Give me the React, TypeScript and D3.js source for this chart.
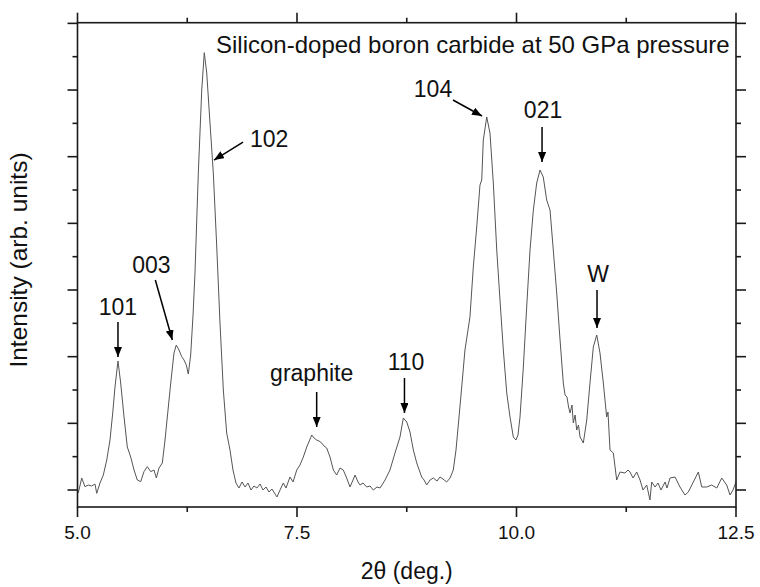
import React from "react";
import * as d3 from "d3";

// 2θ (deg.) values of the measured pattern
const twoTheta: number[] = [
  5.009, 5.048, 5.085, 5.123, 5.162, 5.199, 5.219, 5.256, 5.294, 5.333, 5.370, 5.401, 5.427, 5.461,
  5.492, 5.530, 5.567, 5.606, 5.644, 5.681, 5.720, 5.757, 5.795, 5.834, 5.871, 5.898, 5.928, 5.966,
  5.997, 6.023, 6.062, 6.099, 6.125, 6.156, 6.187, 6.213, 6.239, 6.262, 6.289, 6.316, 6.338, 6.376,
  6.415, 6.444, 6.472, 6.509, 6.547, 6.585, 6.623, 6.661, 6.699, 6.737, 6.771, 6.805, 6.839, 6.874,
  6.908, 6.942, 6.976, 7.010, 7.044, 7.079, 7.113, 7.147, 7.181, 7.215, 7.250, 7.272, 7.307, 7.344,
  7.375, 7.420, 7.455, 7.497, 7.534, 7.572, 7.611, 7.668, 7.694, 7.724, 7.751, 7.781, 7.808, 7.838,
  7.876, 7.914, 7.952, 7.990, 8.027, 8.066, 8.104, 8.138, 8.161, 8.195, 8.218, 8.252, 8.294, 8.332,
  8.369, 8.411, 8.446, 8.503, 8.559, 8.616, 8.673, 8.711, 8.750, 8.787, 8.825, 8.864, 8.920, 8.947,
  8.977, 9.015, 9.053, 9.095, 9.129, 9.163, 9.205, 9.243, 9.280, 9.311, 9.337, 9.368, 9.413, 9.470,
  9.508, 9.547, 9.584, 9.604, 9.622, 9.661, 9.698, 9.736, 9.775, 9.812, 9.850, 9.889, 9.926, 9.964,
  9.994, 10.017, 10.040, 10.078, 10.116, 10.154, 10.192, 10.230, 10.268, 10.305, 10.344, 10.382,
  10.419, 10.458, 10.496, 10.533, 10.553, 10.575, 10.593, 10.610, 10.632, 10.647, 10.667, 10.686,
  10.706, 10.724, 10.761, 10.800, 10.837, 10.875, 10.914, 10.951, 10.989, 11.027, 11.042, 11.065,
  11.103, 11.141, 11.179, 11.235, 11.270, 11.293, 11.327, 11.369, 11.407, 11.441, 11.483, 11.520,
  11.540, 11.578, 11.612, 11.646, 11.692, 11.714, 11.749, 11.806, 11.862, 11.919, 11.957, 12.014,
  12.071, 12.110, 12.167, 12.223, 12.281, 12.337, 12.394, 12.432, 12.466, 12.500,
];

// Intensity (arb. units)
const intensity: number[] = [
  -9, 36, 10, 15, 12, 18, -10, 21, 45, 90, 150, 231, 309, 387,
  321, 219, 129, 99, 60, 30, 25, 55, 70, 55, 60, 36, 66, 81,
  150, 219, 321, 411, 435, 420, 400, 390, 375, 348, 405, 525, 651, 951,
  1200, 1312, 1251, 1101, 951, 735, 501, 300, 171, 120, 60, 21, 6, 24,
  9, 21, 0, 12, 6, 18, 0, 9, -6, 3, -12, -21, 0, 21,
  6, 39, 24, 60, 75, 99, 129, 165, 156, 150, 147, 141, 132, 126,
  99, 60, 45, 66, 60, 36, 9, 30, 45, 24, 15, 21, 9, 12,
  0, 9, 6, 30, 60, 111, 159, 216, 204, 174, 120, 81, 39, 30,
  15, 30, 36, 27, 39, 33, 24, 36, 60, 120, 195, 285, 420, 519,
  669, 789, 915, 930, 1050, 1119, 1071, 921, 720, 570, 420, 291, 219, 159,
  150, 165, 219, 369, 549, 720, 840, 921, 960, 939, 870, 840,
  720, 591, 450, 321, 285, 279, 249, 231, 255, 201, 225, 180,
  195, 159, 141, 210, 321, 429, 465, 411, 321, 219, 234, 120,
  111, 30, 54, 51, 60, 54, 36, 54, 30, 0, 15, -30,
  24, 9, 21, 0, 24, 6, 36, 39, 9, -15, -6, 24,
  54, 9, 9, 15, 6, 36, 15, -15, 0, 24,
];

const xMajorTicks = [5.0, 7.5, 10.0, 12.5];
const xMinorTicks = [6.25, 8.75, 11.25];
const xTickLabels = ["5.0", "7.5", "10.0", "12.5"];
const yMajorTicks = [0, 200, 400, 600, 800, 1000, 1200, 1400];
const yMinorTicks = [100, 300, 500, 700, 900, 1100, 1300];

// peak annotations: label, tip position (2θ, intensity)
const peakLabels = ["101", "003", "102", "graphite", "110", "104", "021", "W"];
const peakTip2Theta = [5.461, 6.08, 6.555, 7.724, 8.724, 9.607, 10.291, 10.917];
const peakTipIntensity = [399, 450, 990, 189, 231, 1122, 984, 486];

// layout offsets for the annotations (pixels, relative to the arrow tip)
const annoLayout = [
  { tail: [0, -35], text: [0, -42], anchor: "middle" },
  { tail: [-17, -60], text: [-21, -67], anchor: "middle" },
  { tail: [29, -18], text: [36, -13], anchor: "start" },
  { tail: [0, -35], text: [-5, -46], anchor: "middle" },
  { tail: [0, -35], text: [1.5, -43], anchor: "middle" },
  { tail: [-29, -16], text: [-49, -19], anchor: "middle" },
  { tail: [0, -35], text: [1, -44], anchor: "middle" },
  { tail: [0, -38], text: [1, -46], anchor: "middle" },
];

const W = 760;
const H = 587;
const L = 77.5, R = 736, T = 22.7, B = 507;
const FONT = "'Liberation Sans', Arial, Helvetica, sans-serif";
const AX = "#1a1a1a";

export default function App() {
  const x = d3.scaleLinear().domain([5, 12.5]).range([L, R]);
  const y = d3.scaleLinear().domain([-51, 1402]).range([B, T]);
  const pts: [number, number][] = twoTheta.map((t, i) => [t, intensity[i]]);
  const line = d3
    .line<[number, number]>()
    .x((d) => x(d[0]))
    .y((d) => y(d[1]));

  const majL = 10, minL = 5;

  return (
    <svg
      width={W}
      height={H}
      viewBox={`0 0 ${W} ${H}`}
      style={{ position: "absolute", left: 0, top: 0, background: "#fff" }}
      fontFamily={FONT}
    >
      <defs>
        <marker id="ah" viewBox="0 0 10 8" refX="10" refY="4" markerWidth="10" markerHeight="8" markerUnits="userSpaceOnUse" orient="auto">
          <path d="M0,0 L10,4 L0,8 Z" fill="#000" />
        </marker>
      </defs>
      <rect x={0} y={0} width={W} height={H} fill="#fff" />

      {/* data curve */}
      <path d={line(pts) || ""} fill="none" stroke="#555" strokeWidth={1} strokeLinejoin="round" />

      {/* frame */}
      <rect x={L} y={T} width={R - L} height={B - T} fill="none" stroke={AX} strokeWidth={1.6} />

      {/* x ticks bottom & top */}
      {xMajorTicks.map((t) => (
        <g key={"xM" + t}>
          <line x1={x(t)} x2={x(t)} y1={B} y2={B + majL} stroke={AX} strokeWidth={1.6} />
          <line x1={x(t)} x2={x(t)} y1={T} y2={T - majL} stroke={AX} strokeWidth={1.6} />
        </g>
      ))}
      {xMinorTicks.map((t) => (
        <g key={"xm" + t}>
          <line x1={x(t)} x2={x(t)} y1={B} y2={B + minL} stroke={AX} strokeWidth={1.6} />
          <line x1={x(t)} x2={x(t)} y1={T} y2={T - minL} stroke={AX} strokeWidth={1.6} />
        </g>
      ))}
      {xMajorTicks.map((t, i) => (
        <text key={"xl" + t} x={x(t)} y={539} fontSize={19} textAnchor="middle" fill="#111">
          {xTickLabels[i]}
        </text>
      ))}

      {/* y ticks left & right */}
      {yMajorTicks.map((t) => (
        <g key={"yM" + t}>
          <line x1={L} x2={L - majL} y1={y(t)} y2={y(t)} stroke={AX} strokeWidth={1.6} />
          <line x1={R} x2={R + majL} y1={y(t)} y2={y(t)} stroke={AX} strokeWidth={1.6} />
        </g>
      ))}
      {yMinorTicks.map((t) => (
        <g key={"ym" + t}>
          <line x1={L} x2={L - minL} y1={y(t)} y2={y(t)} stroke={AX} strokeWidth={1.6} />
          <line x1={R} x2={R + minL} y1={y(t)} y2={y(t)} stroke={AX} strokeWidth={1.6} />
        </g>
      ))}

      {/* axis titles */}
      <text x={(L + R) / 2} y={579} fontSize={23} textAnchor="middle" fill="#111">
        2θ (deg.)
      </text>
      <text
        transform={`translate(27, 260) rotate(-90)`}
        fontSize={24.5}
        textAnchor="middle"
        fill="#111"
      >
        Intensity (arb. units)
      </text>

      {/* title inside plot */}
      <text x={216} y={53} fontSize={24} fill="#111">
        Silicon-doped boron carbide at 50 GPa pressure
      </text>

      {/* peak annotations */}
      {peakLabels.map((lab, i) => {
        const tx = x(peakTip2Theta[i]);
        const ty = y(peakTipIntensity[i]);
        const a = annoLayout[i];
        return (
          <g key={"pk" + lab}>
            <line
              x1={tx + a.tail[0]}
              y1={ty + a.tail[1]}
              x2={tx}
              y2={ty}
              stroke="#000"
              strokeWidth={1.5}
              markerEnd="url(#ah)"
            />
            <text x={tx + a.text[0]} y={ty + a.text[1]} fontSize={23} textAnchor={a.anchor} fill="#111">
              {lab}
            </text>
          </g>
        );
      })}
    </svg>
  );
}
